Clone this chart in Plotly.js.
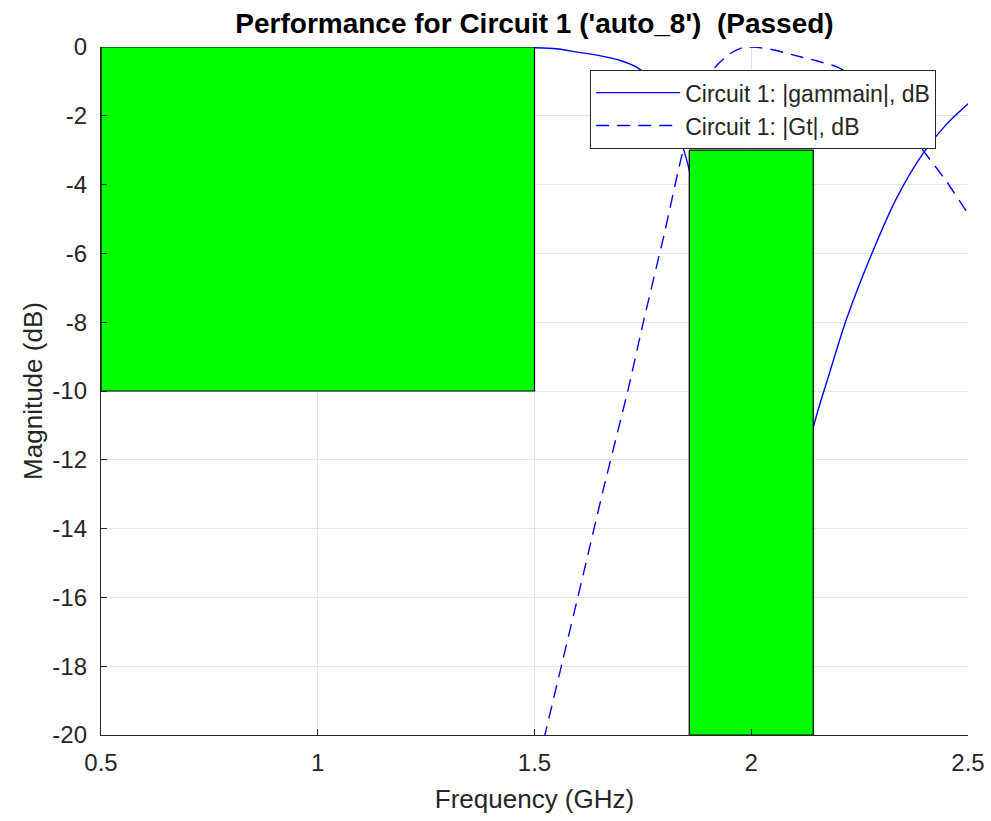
<!DOCTYPE html>
<html>
<head>
<meta charset="utf-8">
<script src="https://cdn.plot.ly/plotly-3.0.1.min.js"></script>
<style>html,body{margin:0;padding:0;background:#fff;}#chart{width:991px;height:821px;}</style>
</head>
<body>
<div id="chart"></div>
<script>
// |gammain| (dB) of Circuit 1
const gammaFreq = [1.0, 1.1, 1.2, 1.3, 1.4, 1.5, 1.55, 1.6, 1.65, 1.7, 1.74, 1.78, 1.81, 1.837, 1.859, 1.9, 1.95, 2.0, 2.05, 2.1, 2.143, 2.18, 2.22, 2.28, 2.335, 2.396, 2.45, 2.5];
const gammaDb   = [0, 0, 0, 0, -0.005, -0.02, -0.05, -0.15, -0.25, -0.4, -0.62, -1.1, -1.8, -2.7, -3.7, -8, -16, -30, -20, -14, -11.07, -9.5, -7.9, -5.95, -4.4, -3.1, -2.25, -1.65];
// |Gt| (dB) of Circuit 1
const gtFreq = [1.5, 1.524, 1.56, 1.613, 1.66, 1.717, 1.751, 1.8, 1.843, 1.88, 1.916, 1.95, 1.98, 2.0, 2.013, 2.05, 2.096, 2.15, 2.198, 2.25, 2.3, 2.35, 2.396, 2.45, 2.5];
const gtDb   = [-21.3, -20, -18.1, -15.3, -12.8, -9.9, -8.0, -5.4, -3.0, -1.6, -0.6, -0.2, -0.02, 0, -0.01, -0.08, -0.23, -0.4, -0.58, -0.95, -1.5, -2.2, -3.0, -3.9, -4.85];
// Performance goal masks
const mask1Freq = [0.5, 1.5, 1.5, 0.5, 0.5];
const mask1Db   = [0, 0, -10, -10, 0];
const mask2Freq = [1.857, 2.143, 2.143, 1.857, 1.857];
const mask2Db   = [-3, -3, -20, -20, -3];
// Axis ticks
const xTicks = [0.5, 1, 1.5, 2, 2.5];
const xTickText = ['0.5', '1', '1.5', '2', '2.5'];
const yTicks = [0, -2, -4, -6, -8, -10, -12, -14, -16, -18, -20];
const yTickText = ['0', '-2', '-4', '-6', '-8', '-10', '-12', '-14', '-16', '-18', '-20'];

const font = 'Liberation Sans, Arial, Helvetica, sans-serif';
const ink = '#262626';

const traces = [
  {x: gammaFreq, y: gammaDb, type: 'scatter', mode: 'lines', name: 'Circuit 1: |gammain|, dB',
   line: {color: '#0000ff', width: 1.4, shape: 'spline', smoothing: 0.8}},
  {x: gtFreq, y: gtDb, type: 'scatter', mode: 'lines', name: 'Circuit 1: |Gt|, dB',
   line: {color: '#0000ff', width: 1.4, dash: '13px,8px', shape: 'spline', smoothing: 0.6}},
  {x: mask1Freq, y: mask1Db, type: 'scatter', mode: 'lines', fill: 'toself', fillcolor: '#00ff00',
   line: {color: '#000000', width: 1.2}, showlegend: false, hoverinfo: 'skip'},
  {x: mask2Freq, y: mask2Db, type: 'scatter', mode: 'lines', fill: 'toself', fillcolor: '#00ff00',
   line: {color: '#000000', width: 1.2}, showlegend: false, hoverinfo: 'skip'}
];

const layout = {
  width: 991, height: 821,
  margin: {l: 101, r: 23, t: 47, b: 86, pad: 0},
  paper_bgcolor: '#ffffff', plot_bgcolor: '#ffffff',
  font: {family: font, color: ink, size: 24},
  title: {text: "<b>Performance for Circuit 1 ('auto_8')  (Passed)</b>", font: {family: font, size: 28, color: '#000000'},
          x: 0.5, xref: 'paper', xanchor: 'center', y: 1 - 23/821, yref: 'container', yanchor: 'middle'},
  xaxis: {range: [0.5, 2.5], tickvals: xTicks, ticktext: xTickText, ticks: 'inside', ticklen: 6, tickcolor: ink,
          showline: true, linecolor: ink, linewidth: 1.2, showgrid: true, gridcolor: '#e3e3e3', zeroline: false,
          tickfont: {size: 24, color: ink}, ticklabelstandoff: 6,
          title: {text: 'Frequency (GHz)', font: {size: 26, color: ink}, standoff: 14}},
  yaxis: {range: [-20, 0], tickvals: yTicks, ticktext: yTickText, ticks: 'inside', ticklen: 6, tickcolor: ink,
          showline: true, linecolor: ink, linewidth: 1.2, showgrid: true, gridcolor: '#e3e3e3', zeroline: false,
          tickfont: {size: 24, color: ink}, ticklabelstandoff: 8,
          title: {text: 'Magnitude (dB)', font: {size: 26, color: ink}, standoff: 2}},
  showlegend: true,
  legend: {x: (590-101)/867, y: (735-70)/688, xanchor: 'left', yanchor: 'top', bgcolor: '#ffffff',
           bordercolor: ink, borderwidth: 1.2, font: {size: 23, color: ink}, itemwidth: 84, tracegroupgap: 0}
};

Plotly.newPlot('chart', traces, layout, {staticPlot: true});
</script>
</body>
</html>
